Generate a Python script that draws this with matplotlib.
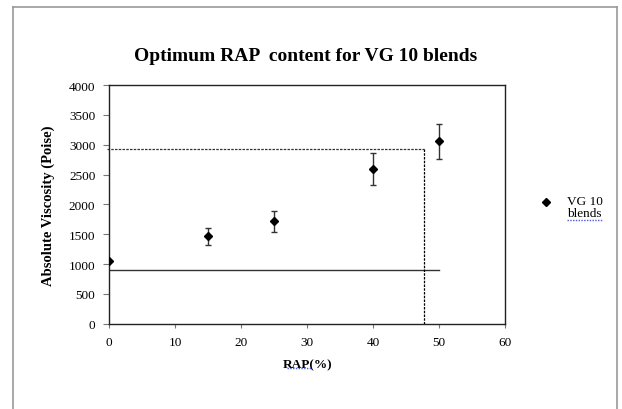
import matplotlib
matplotlib.use("Agg")
import matplotlib.pyplot as plt
from matplotlib.lines import Line2D

plt.rcParams['font.family'] = ['Liberation Serif', 'DejaVu Serif']

# data
rap = [0, 15, 25, 40, 50]
viscosity = [1050, 1465, 1720, 2590, 3055]
err = [0, 140, 175, 270, 300]

# guide lines
base_visc = 900       # solid line, lower limit
base_end = 50
opt_visc = 2925       # dashed line, upper limit
opt_rap = 47.7

xticks = [0, 10, 20, 30, 40, 50, 60]
yticks = [0, 500, 1000, 1500, 2000, 2500, 3000, 3500, 4000]

fig = plt.figure(figsize=(6.22, 4.10), dpi=100)
ax = fig.add_axes([0.1757, 0.208, 0.6367, 0.582])

ax.errorbar(rap, viscosity, yerr=err, fmt='D', color='black', markersize=4,
            ecolor='#333333', elinewidth=1, capsize=2, capthick=1, zorder=3)

ax.plot([0, base_end], [base_visc, base_visc], color='#333333', lw=1)
ax.plot([-0.3, opt_rap], [opt_visc, opt_visc], color='#333333', lw=0.9,
        ls=(0, (2, 1)), clip_on=False)
ax.plot([opt_rap, opt_rap], [opt_visc, 0], color='black', lw=0.9,
        ls=(0, (2, 1)))

ax.set_xlim(0, 60)
ax.set_ylim(0, 4000)
ax.set_xticks(xticks)
ax.set_yticks(yticks)
ax.tick_params(labelsize=9.5, width=0.8, color='#777777')
ax.tick_params(axis='x', length=3, pad=6)
ax.tick_params(axis='y', length=4, pad=6)
for s in ax.spines.values():
    s.set_linewidth(1)
    s.set_color('#222222')

ax.set_xlabel('RAP(%)', fontsize=9.5, fontweight='bold', labelpad=7)
ax.set_ylabel('Absolute Viscosity (Poise)', fontsize=10.5, fontweight='bold',
              labelpad=10)
fig.text(0.492, 0.861, 'Optimum RAP  content for VG 10 blends', ha='center',
         va='center', fontsize=14, fontweight='bold')

# legend: marker beside the first line of a two-line label
fig.add_artist(Line2D([546/622], [1 - 203/410], marker='D', markersize=4,
                      color='black', ls='none'))
fig.text(567/622, 1 - 196/410, 'VG 10\nblends', ha='left', va='top',
         fontsize=9.5, linespacing=0.95)

# spell-check underlines seen in the source
squig = dict(color='#4a5ad8', lw=1, ls=(0, (1, 1)))
fig.add_artist(Line2D([567/622, 603/622], [1 - 221/410] * 2, **squig))
fig.add_artist(Line2D([287/622, 311/622], [1 - 369/410] * 2, **squig))

# outer chart frame (bottom edge falls off the image)
frame = dict(color='#999999', lw=1.2)
fig.add_artist(Line2D([13/622, 13/622], [0, 1 - 8/410], **frame))
fig.add_artist(Line2D([13/622, 617/622], [1 - 8/410, 1 - 8/410], **frame))
fig.add_artist(Line2D([617/622, 617/622], [0, 1 - 8/410], **frame))

fig.savefig('out.png', dpi=100)
